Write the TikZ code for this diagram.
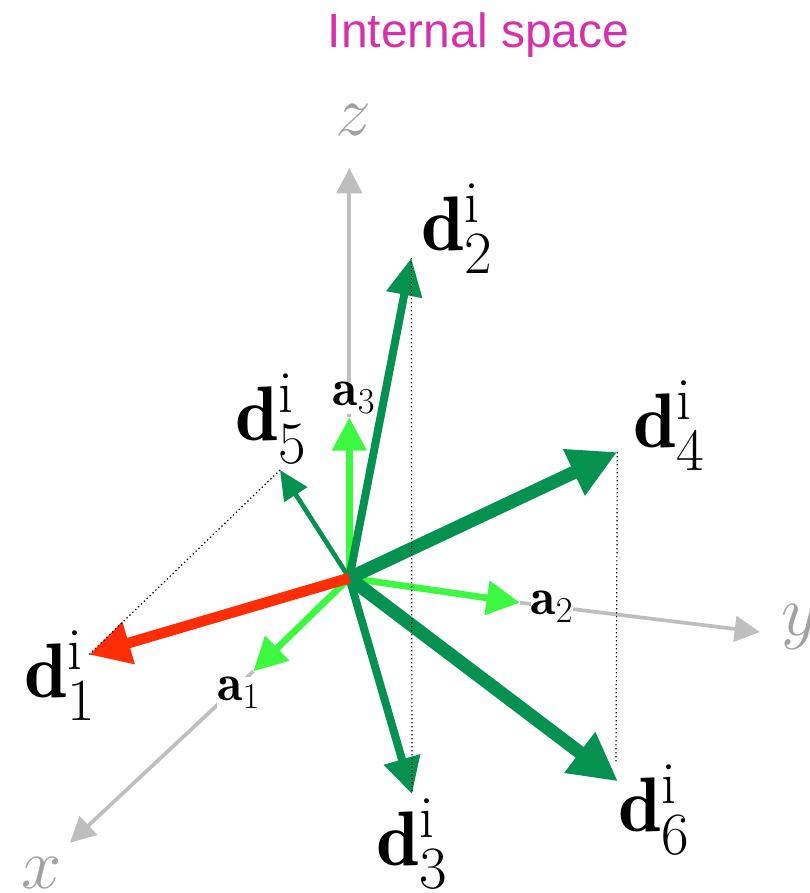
\documentclass[tikz,border=0pt]{standalone}
\usepackage{fix-cm}
\usepackage{amsmath,amssymb}
\usepackage{fontspec}
\setsansfont{Liberation Sans}
\usepackage{xcolor}
\usetikzlibrary{arrows.meta}
\DeclareMathSizes{58}{58}{45}{33}
\definecolor{dgreen}{RGB}{5,145,80}
\definecolor{lgreen}{RGB}{60,248,65}
\definecolor{dred}{RGB}{255,45,5}
\definecolor{axisgray}{RGB}{190,190,190}
\definecolor{titlepink}{RGB}{214,48,170}
\tikzset{
  axisline/.style={axisgray, line width=2.8pt, -{Triangle[length=19pt,width=19pt]}},
  basevec/.style={lgreen, line width=5pt, -{Triangle[length=25pt,width=25pt]}},
  guide/.style={black, line width=0.9pt, dash pattern=on 1pt off 2pt},
  lab/.style={inner sep=0pt, font=\fontsize{58}{58}\selectfont},
  smalllab/.style={inner sep=0pt, fill=white, font=\fontsize{39}{39}\selectfont},
  axislab/.style={inner sep=0pt, text=axisgray!85!black, font=\fontsize{54}{54}\selectfont}
}
\begin{document}
\begin{tikzpicture}[x=1pt,y=-1pt]
  \useasboundingbox (0,0) rectangle (607.5,669.75);
  \coordinate (O) at (262,433.5);
  \coordinate (D1) at (66.75,491);
  \coordinate (D2) at (308.5,193.5);
  \coordinate (D3) at (309,595.5);
  \coordinate (D4) at (463,339);
  \coordinate (D5) at (210,352.5);
  \coordinate (D6) at (463.5,586);
  \coordinate (D6g) at (462,572);
  \coordinate (A1) at (190,503.5);
  \coordinate (A2) at (390,452);
  \coordinate (A3) at (262,313);
  \coordinate (X) at (52.5,632);
  \coordinate (Y) at (570,474);
  \coordinate (Z) at (262,126);

  \node[font=\sffamily\fontsize{36}{36}\selectfont, text=titlepink] (title) at (359,26) {Internal space};

  \draw[axisline] (A3) -- (Z);
  \draw[axisline] (A2) -- (Y);
  \draw[axisline] (A1) -- (X);

  \node[smalllab] (a1) at (179,519.5) {$\mathbf{a}_1$};
  \node[smalllab] (a2) at (414,455) {$\mathbf{a}_2$};
  \node[smalllab] (a3) at (265.5,298.5) {$\mathbf{a}_3$};

  \draw[basevec] (O) -- (A1);
  \draw[basevec] (O) -- (A2);
  \draw[basevec] (O) -- (A3);

  \draw[dgreen, line width=6pt, -{Triangle[length=28pt,width=26pt]}] (O) -- (D2);
  \draw[dgreen, line width=6pt, -{Triangle[length=27pt,width=27pt]}] (O) -- (D3);
  \draw[dgreen, line width=3.5pt, -{Triangle[length=22pt,width=20pt]}] (O) -- (D5);
  \draw[dgreen, line width=10pt, -{Triangle[length=36pt,width=36pt]}] (O) -- (D4);
  \draw[dgreen, line width=10pt, -{Triangle[length=36pt,width=36pt]}] (O) -- (D6);
  \draw[dred, line width=8pt, -{Triangle[length=31pt,width=31pt]}] (O) -- (D1);

  \draw[guide] (D5) -- (D1);
  \draw[guide] (D2) -- (D3);
  \draw[guide] (D4) -- (D6g);

  \node[lab] (d1) at (45,506.5) {$\mathbf{d}_1^{\mathrm{i}}$};
  \node[lab] (d2) at (342.5,171.5) {$\mathbf{d}_2^{\mathrm{i}}$};
  \node[lab] (d3) at (309,633) {$\mathbf{d}_3^{\mathrm{i}}$};
  \node[lab] (d4) at (501.5,319.5) {$\mathbf{d}_4^{\mathrm{i}}$};
  \node[lab] (d5) at (203,314) {$\mathbf{d}_5^{\mathrm{i}}$};
  \node[lab] (d6) at (490.5,607) {$\mathbf{d}_6^{\mathrm{i}}$};

  \node[axislab] (x) at (31,655) {$x$};
  \node[axislab] (y) at (600,470) {$y$};
  \node[axislab] (z) at (265,90) {$z$};
\end{tikzpicture}
\end{document}
